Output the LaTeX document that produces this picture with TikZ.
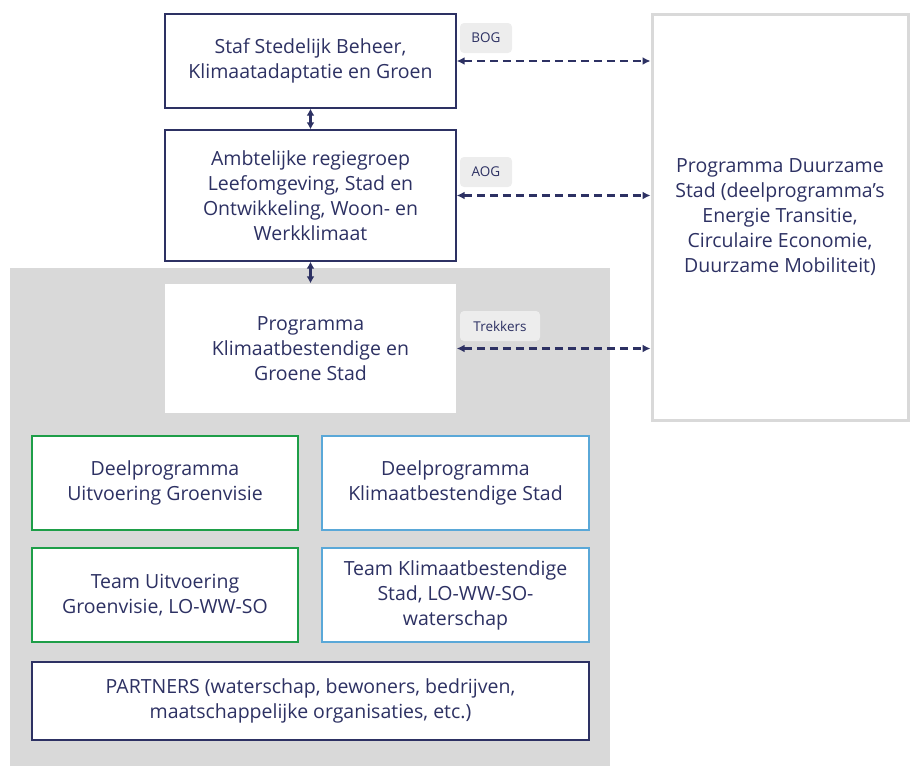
\documentclass[tikz,border=0pt]{standalone}
\usepackage{fontspec}
\setmainfont{Open Sans}
\usetikzlibrary{arrows.meta}
\definecolor{navy}{HTML}{2D3163}
\definecolor{bggray}{HTML}{D9D9D9}
\definecolor{lblgray}{HTML}{EDEDED}
\definecolor{groen}{HTML}{1E9E48}
\definecolor{blauw}{HTML}{5AA8D8}
\begin{document}
\begin{tikzpicture}[x=1pt, y=-1pt,
    every node/.style={align=center, text=navy, font=\fontsize{19.5}{25}\selectfont},
    box/.style={draw=navy, line width=1.4pt, fill=white, inner sep=0pt},
    greenbox/.style={box, draw=groen, line width=2.8pt},
    bluebox/.style={box, draw=blauw, line width=2.8pt},
    lbl/.style={fill=lblgray, rounded corners=4pt, inner sep=0pt,
      minimum height=30, font=\fontsize{13.5}{15}\selectfont},
    link/.style={navy, line width=2.3pt, dash pattern=on 8pt off 5pt,
      {Latex[length=8pt,width=8pt]}-{Latex[length=8pt,width=8pt]}},
    vlink/.style={navy, line width=2.3pt,
      {Latex[length=7pt,width=8pt]}-{Latex[length=7pt,width=8pt]}}]
    \useasboundingbox (0,0) rectangle (910,771);
    \fill[bggray] (10,268) rectangle (610,766);

    \node[box, minimum width=291, minimum height=94] (staf) at (310.5,61)
      {Staf Stedelijk Beheer,\\Klimaatadaptatie en Groen};
    \node[box, minimum width=291, minimum height=131] (ambt) at (310.5,195.5)
      {Ambtelijke regiegroep\\Leefomgeving, Stad en\\Ontwikkeling, Woon- en\\Werkklimaat};
    \node[box, draw=none, minimum width=291, minimum height=129] (prog) at (310.5,348.5)
      {Programma\\Klimaatbestendige en\\Groene Stad};
    \node[box, draw=bggray, line width=3pt, minimum width=256, minimum height=406] (duur) at (780,217)
      {Programma Duurzame\\Stad (deelprogramma’s\\Energie Transitie,\\Circulaire Economie,\\Duurzame Mobiliteit)};
    \node[greenbox, minimum width=266, minimum height=94] (dgroen) at (165,483)
      {Deelprogramma\\Uitvoering Groenvisie};
    \node[bluebox, minimum width=267, minimum height=94] (dklim) at (455.5,483)
      {Deelprogramma\\Klimaatbestendige Stad};
    \node[greenbox, minimum width=266, minimum height=94] (tgroen) at (165,595)
      {Team Uitvoering\\Groenvisie, LO-WW-SO};
    \node[bluebox, minimum width=267, minimum height=94] (tklim) at (455.5,595)
      {Team Klimaatbestendige\\Stad, LO-WW-SO-\\waterschap};
    \node[box, minimum width=557, minimum height=78] (partners) at (310.5,701)
      {PARTNERS (waterschap, bewoners, bedrijven,\\maatschappelijke organisaties, etc.)};

    \node[lbl, minimum width=52] (bog) at (486,38) {BOG};
    \node[lbl, minimum width=52] (aog) at (486,172) {AOG};
    \node[lbl, minimum width=80] (trek) at (500,326) {Trekkers};

    \draw[vlink] (staf) -- (ambt);
    \draw[vlink] (ambt) -- (prog);
    \draw[link] (staf.east) -- (staf.east -| duur.west);
    \draw[link] (ambt.east) -- (ambt.east -| duur.west);
    \draw[link] (prog.east) -- (prog.east -| duur.west);
\end{tikzpicture}
\end{document}
